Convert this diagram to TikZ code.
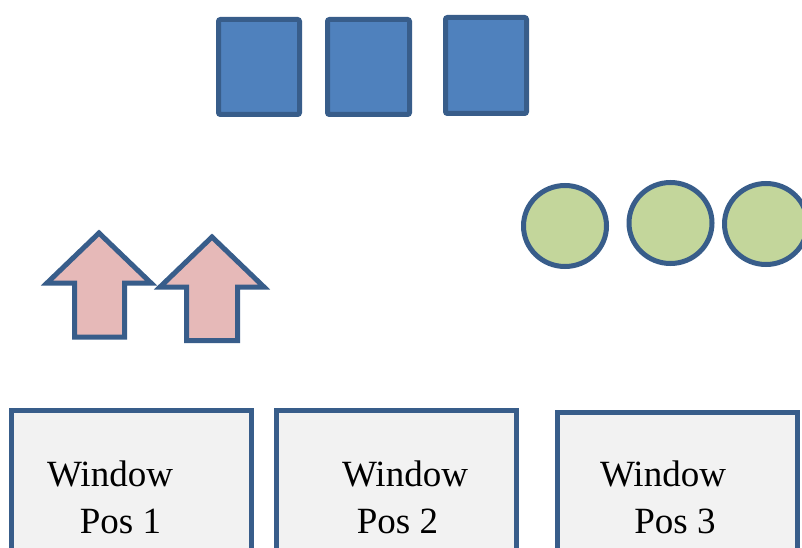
\documentclass[tikz,border=0pt]{standalone}
\usepackage{fontspec}
\setmainfont{Liberation Serif}
\usetikzlibrary{shapes.geometric}

\definecolor{edge}{HTML}{385D8A}
\definecolor{boxblue}{HTML}{4F81BD}
\definecolor{arrowpink}{HTML}{E6B9B8}
\definecolor{ballgreen}{HTML}{C3D69B}
\definecolor{winfill}{HTML}{F2F2F2}

\begin{document}
\begin{tikzpicture}[x=1pt, y=-1pt, line width=5pt,
    block/.style={rectangle, rounded corners=2pt, draw=edge, fill=boxblue, inner sep=0pt},
    ball/.style={ellipse, draw=edge, fill=ballgreen, minimum width=83pt, minimum height=81pt, inner sep=0pt},
    uparrow/.style={draw=edge, fill=arrowpink, line join=miter},
    window/.style={rectangle, draw=edge, fill=winfill, anchor=north, minimum width=240pt, minimum height=180pt, inner sep=0pt},
    wlabel/.style={anchor=base, font=\fontsize{37}{44}\selectfont, inner sep=0pt}]
        \clip (0,0) rectangle (802,548);
        \fill[white] (0,0) rectangle (802,548);
        % blocks on top
        \node[block, minimum width=81pt, minimum height=95pt] (b1) at (259,67) {};
        \node[block, minimum width=82pt, minimum height=95pt] (b2) at (368.5,67) {};
        \node[block, minimum width=81pt, minimum height=96pt] (b3) at (486,65.5) {};
        % balls
        \node[ball] (c1) at (565,226) {};
        \node[ball] (c2) at (670.5,223) {};
        \node[ball] (c3) at (766,224) {};
        % arrows
        \draw[uparrow] (99,233) -- (151,283) -- (124.5,283) -- (124.5,337) -- (74.5,337) -- (74.5,283) -- (47,283) -- cycle;
        \draw[uparrow] (212,237) -- (264,287) -- (237.5,287) -- (237.5,340.5) -- (186.5,340.5) -- (186.5,287) -- (160,287) -- cycle;
        % windows
        \node[window] (w1) at (131,407.5) {};
        \node[window] (w2) at (396.5,407.5) {};
        \node[window] (w3) at (677,409.5) {};
        \node[wlabel] (t1) at (110,486) {Window};
        \node[wlabel] (p1) at (120.5,533) {Pos 1};
        \node[wlabel] (t2) at (405,486) {Window};
        \node[wlabel] (p2) at (397.5,533) {Pos 2};
        \node[wlabel] (t3) at (663,486) {Window};
        \node[wlabel] (p3) at (675,533) {Pos 3};
    \end{tikzpicture}
\end{document}
